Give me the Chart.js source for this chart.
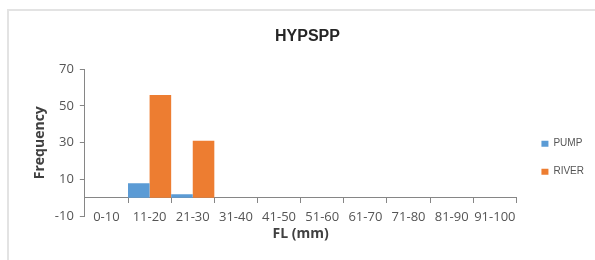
<!DOCTYPE html>
<html>
<head>
<meta charset="utf-8">
<script src="https://cdn.jsdelivr.net/npm/chart.js@4.4.1/dist/chart.umd.min.js"></script>
<style>
    html, body { margin: 0; padding: 0; background: #fff; }
    #wrap { position: relative; width: 595px; height: 260px; }
    /* light grey chart-area frame, cut off at right and bottom */
    #frame {
        position: absolute; left: 7px; top: 9px; right: -4px; bottom: -4px;
        border-top: 2px solid #e3e3e3; border-left: 2px solid #e3e3e3;
    }
    canvas { position: absolute; left: 0; top: 0; }
</style>
</head>
<body>
<div id="wrap">
    <div id="frame"></div>
    <canvas id="histChart" width="595" height="260"></canvas>
</div>
<script>
// --- Data ---
const categories = ['0-10', '11-20', '21-30', '31-40', '41-50', '51-60', '61-70', '71-80', '81-90', '91-100'];
const pumpValues = [0, 8, 2, 0, 0, 0, 0, 0, 0, 0];
const riverValues = [0, 56, 31, 0, 0, 0, 0, 0, 0, 0];
const yTicks = [-10, 10, 30, 50, 70];

const axisGrey = '#868686';
const textGrey = '#555555';

// Small shift of the legend block so it sits where the original puts it
const legendShift = { dx: 7, dy: 0 };
const legendNudge = {
    id: 'legendNudge',
    afterLayout(chart) {
        const lg = chart.legend;
        lg.left += legendShift.dx; lg.right += legendShift.dx;
        lg.top += legendShift.dy; lg.bottom += legendShift.dy;
    }
};

const ctx = document.getElementById('histChart').getContext('2d');
const histChart = new Chart(ctx, {
    type: 'bar',
    data: {
        labels: categories,
        datasets: [
            { label: 'PUMP', data: pumpValues, backgroundColor: '#5B9BD5', borderWidth: 0, inflateAmount: 0 },
            { label: 'RIVER', data: riverValues, backgroundColor: '#ED7D31', borderWidth: 0, inflateAmount: 0 }
        ]
    },
    options: {
        responsive: false,
        animation: false,
        categoryPercentage: 1.0,
        barPercentage: 1.0,
        layout: { padding: { top: 12, left: 28, right: 8, bottom: 14 } },
        font: { family: '"Open Sans", sans-serif' },
        scales: {
            // bottom axis only carries the title
            x: {
                grid: { display: false, drawTicks: false },
                border: { display: false },
                ticks: { display: false },
                title: {
                    display: true,
                    text: 'FL (mm)',
                    color: '#404040',
                    font: { size: 14, weight: 'bold' },
                    padding: { top: 9, bottom: 4 }
                }
            },
            // category axis drawn along the zero line, labels hang down to the -10 row
            xZero: {
                type: 'category',
                labels: categories,
                position: { y: 0 },
                offset: true,
                grid: { offset: true, drawOnChartArea: false, color: axisGrey, tickLength: 5 },
                border: { color: axisGrey },
                ticks: {
                    color: textGrey,
                    font: { size: 13 },
                    padding: 7,
                    maxRotation: 0,
                    autoSkip: false
                }
            },
            y: {
                min: -10,
                max: 70,
                afterBuildTicks: scale => { scale.ticks = yTicks.map(v => ({ value: v })); },
                grid: { drawOnChartArea: false, color: axisGrey, tickLength: 5 },
                border: { color: axisGrey },
                ticks: { color: textGrey, font: { size: 13 }, padding: 6 },
                title: {
                    display: true,
                    text: 'Frequency',
                    color: '#404040',
                    font: { size: 14, weight: 'bold' },
                    padding: { top: 4, bottom: 0 }
                }
            }
        },
        plugins: {
            title: {
                display: true,
                text: 'HYPSPP',
                color: '#262626',
                font: { size: 16, weight: 'bold' },
                padding: { top: 15, bottom: 23 }
            },
            legend: {
                position: 'right',
                fullSize: false,
                labels: {
                    color: textGrey,
                    font: { size: 10 },
                    boxWidth: 7,
                    boxHeight: 6,
                    padding: 18
                },
                title: { display: true, text: '', font: { size: 10 }, padding: { top: 9, bottom: 9 } }
            },
            tooltip: { enabled: false }
        }
    },
    plugins: [legendNudge]
});
</script>
</body>
</html>
